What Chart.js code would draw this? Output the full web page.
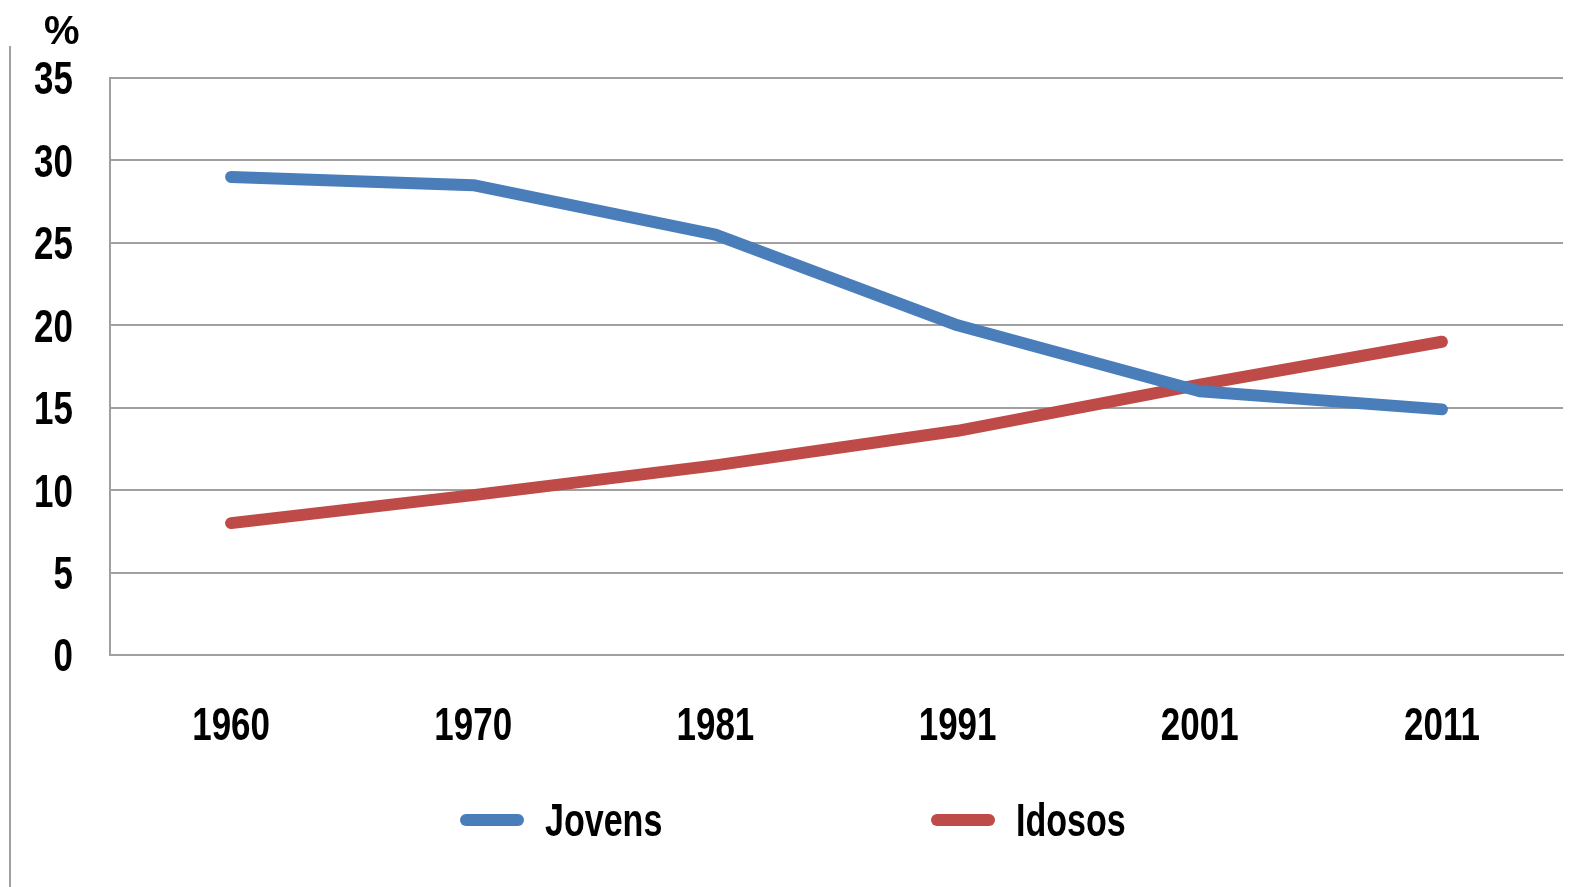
<!DOCTYPE html>
<html lang="pt">
<head>
<meta charset="UTF-8">
<title>Jovens e Idosos</title>
<script src="https://cdn.jsdelivr.net/npm/chart.js"></script>
<style>
    body { margin: 0; background: #fff; }
    .wrap { position: relative; width: 1595px; height: 887px; overflow: hidden; }
    #chart { position: absolute; left: 0; top: 0; }
    .frame { position: absolute; left: 9px; top: 46px; width: 2px; height: 841px; background: #a0a0a0; }
    .unit { position: absolute; left: 44px; top: 8px; font: bold 40px "Liberation Sans", Arial, sans-serif; color: #000; }
    .legend { position: absolute; left: 0; top: 795px; width: 100%; height: 50px; }
    .item { position: absolute; top: 0; display: flex; align-items: center; height: 50px; color: #000; }
    .item span.line { display: inline-block; width: 64px; height: 12px; border-radius: 6px; margin-right: 21px; }
    .item span.txt { display: inline-block; font: bold 46px "Liberation Sans", Arial, sans-serif;
                     transform: scaleX(0.74); transform-origin: left center; }
</style>
</head>
<body>
<div class="wrap">
    <div class="frame"></div>
    <canvas id="chart" width="1595" height="887"></canvas>
    <div class="unit">%</div>
    <div class="legend" id="legend"></div>
</div>
<script>
    const years = ['1960', '1970', '1981', '1991', '2001', '2011'];
    const jovens = [29.0, 28.5, 25.5, 20.0, 16.0, 14.9];
    const idosos = [8.0, 9.7, 11.5, 13.6, 16.4, 19.0];
    const yTicks = [0, 5, 10, 15, 20, 25, 30, 35];

    const blue = '#4a7ebb';
    const red = '#be4b48';
    const gridColor = '#a0a0a0';
    const labelSize = 46;
    const squeeze = 0.76;

    const datasets = [
        { label: 'Jovens', data: jovens, borderColor: blue, backgroundColor: blue },
        { label: 'Idosos', data: idosos, borderColor: red, backgroundColor: red }
    ].map(d => Object.assign(d, {
        borderWidth: 12,
        pointRadius: 0,
        tension: 0,
        borderCapStyle: 'round',
        borderJoinStyle: 'round',
        fill: false
    }));

    // rótulos dos eixos com letra estreita (como no original)
    function narrowText(ctx, text, x, y, align) {
        ctx.save();
        ctx.translate(x, y);
        ctx.scale(squeeze, 1);
        ctx.textAlign = align;
        ctx.textBaseline = 'alphabetic';
        ctx.fillText(text, 0, labelSize * 0.358);
        ctx.restore();
    }

    const tickLabels = {
        id: 'tickLabels',
        afterDraw(chart) {
            const ctx = chart.ctx;
            const xs = chart.scales.x, ys = chart.scales.y;
            ctx.save();
            ctx.fillStyle = '#000';
            ctx.font = 'bold ' + labelSize + 'px "Liberation Sans", Arial, sans-serif';
            yTicks.forEach(v => narrowText(ctx, String(v), 73, ys.getPixelForValue(v), 'right'));
            years.forEach((yr, i) => narrowText(ctx, yr, xs.getPixelForValue(i), 724, 'center'));
            ctx.restore();
        }
    };

    new Chart(document.getElementById('chart'), {
        type: 'line',
        data: { labels: years, datasets: datasets },
        plugins: [tickLabels],
        options: {
            responsive: false,
            animation: false,
            layout: { padding: { top: 78, right: 32, left: 0, bottom: 0 } },
            plugins: { legend: { display: false }, tooltip: { enabled: false } },
            scales: {
                x: {
                    offset: true,
                    grid: { display: false, drawTicks: false },
                    border: { display: true, color: gridColor, width: 2 },
                    ticks: { display: false },
                    afterFit: s => { s.height = 887 - 655; }
                },
                y: {
                    min: 0,
                    max: 35,
                    afterBuildTicks: s => { s.ticks = yTicks.map(v => ({ value: v })); },
                    grid: { color: gridColor, lineWidth: 2, drawTicks: false },
                    border: { display: true, color: gridColor, width: 2 },
                    ticks: { display: false },
                    afterFit: s => { s.width = 110; }
                }
            }
        }
    });

    // legenda em baixo
    const legend = document.getElementById('legend');
    datasets.forEach((d, i) => {
        const item = document.createElement('div');
        item.className = 'item';
        item.style.left = (460 + i * 471) + 'px';
        item.innerHTML = '<span class="line" style="background:' + d.borderColor + '"></span>' +
                         '<span class="txt">' + d.label + '</span>';
        legend.appendChild(item);
    });
</script>
</body>
</html>
